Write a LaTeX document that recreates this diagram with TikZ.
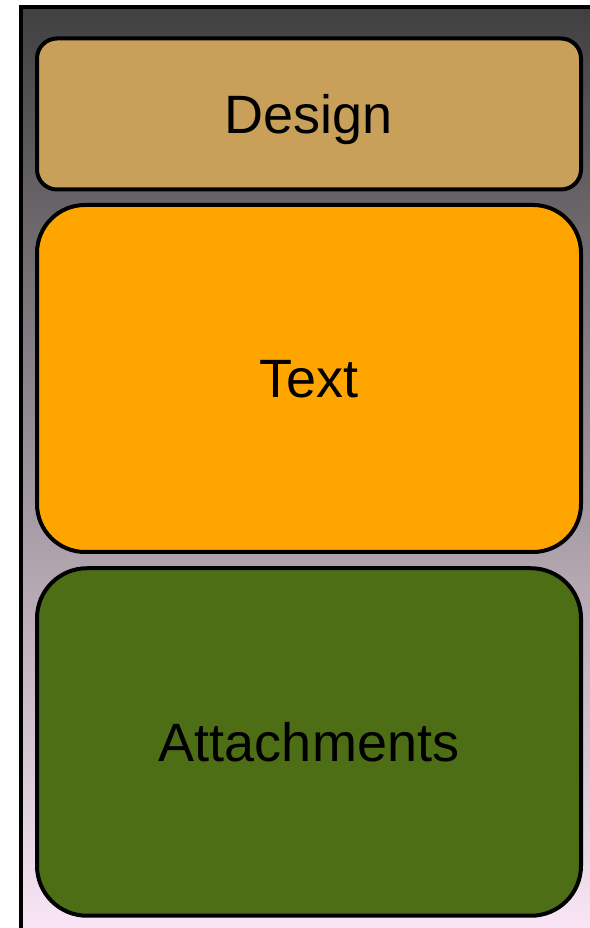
\documentclass[tikz,border=0pt]{standalone}
\usepackage{fontspec}
\setmainfont{Liberation Sans}
\definecolor{bgtop}{RGB}{64,64,64}
\definecolor{bgbot}{RGB}{252,232,248}
\definecolor{designc}{RGB}{200,160,90}
\definecolor{textc}{RGB}{255,165,0}
\definecolor{attachc}{RGB}{77,110,21}
\tikzset{
  panel/.style={draw=black, line width=4pt, minimum width=544pt, inner sep=0pt,
    font=\fontsize{54}{62}\selectfont, text=black, text depth=0pt},
}
\begin{document}
\begin{tikzpicture}[x=1pt,y=1pt]
\useasboundingbox (0,0) rectangle (589,928);
\shade[top color=bgtop, bottom color=bgbot, draw=black, line width=4pt]
  (21,921) rectangle (610,-14);
\node[panel, fill=designc, rounded corners=20pt, minimum height=151pt] (design) at (309,814) {Design};
\node[panel, fill=textc, rounded corners=48pt, minimum height=347pt] (text) at (309,549.5) {Text};
\node[panel, fill=attachc, rounded corners=50pt, minimum height=347.5pt] (attach) at (309,186) {Attachments};
\end{tikzpicture}
\end{document}
